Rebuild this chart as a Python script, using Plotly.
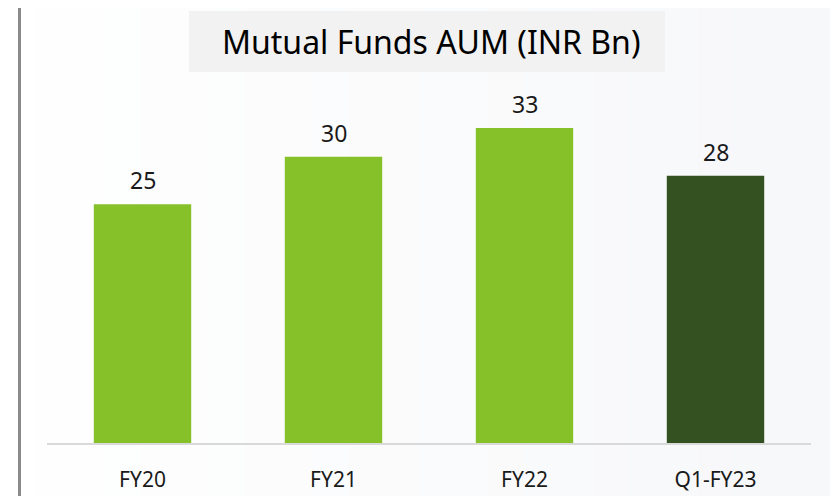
import plotly.graph_objects as go

categories = ["FY20", "FY21", "FY22", "Q1-FY23"]
aum_values = [25, 30, 33, 28]
bar_colors = ["#86C12A", "#86C12A", "#86C12A", "#345221"]
title_text = "Mutual Funds AUM (INR Bn)"

# page body has an 8px margin: figure fills the rest of the 838x496 viewport
OFF = 8
W, H = 838 - OFF, 496 - OFF
L, R, T, B = 47 - OFF, 838 - 811, 50 - OFF, 496 - 443
pw, ph = W - L - R, H - T - B

def px_x(sx):
    return (sx - OFF - L) / pw

def px_y(sy):
    return (H - B - (sy - OFF)) / ph

fig = go.Figure()
fig.add_trace(go.Bar(
    x=categories, y=aum_values,
    marker=dict(color=bar_colors, line=dict(width=0)),
    hoverinfo="skip",
))

shapes = []
# subtle background gradient
n = 24
for i in range(n):
    t = i / (n - 1)
    r = int(255 - 8 * t)
    g = int(255 - 7 * t)
    b = int(255 - 5 * t)
    shapes.append(dict(type="rect", xref="paper", yref="paper",
                       x0=px_x(838 * i / n), x1=px_x(838 * (i + 1) / n + 1),
                       y0=px_y(520), y1=px_y(-20),
                       fillcolor=f"rgb({r},{g},{b})", line=dict(width=0),
                       layer="below"))
# frame
shapes.append(dict(type="rect", xref="paper", yref="paper",
                   x0=px_x(19.5), x1=px_x(880), y0=px_y(540), y1=px_y(5.5),
                   line=dict(color="#8a8a8a", width=3), fillcolor="rgba(0,0,0,0)",
                   layer="below"))
# title box
shapes.append(dict(type="rect", xref="paper", yref="paper",
                   x0=px_x(189), x1=px_x(665), y0=px_y(72), y1=px_y(11),
                   fillcolor="#F2F2F2", line=dict(width=0), layer="below"))

annotations = [dict(text=title_text, xref="paper", yref="paper",
                    x=px_x(431), y=px_y(41), xanchor="center", yanchor="middle",
                    showarrow=False,
                    font=dict(family="Noto Sans", size=32, color="#000000"))]
for c, v in zip(categories, aum_values):
    annotations.append(dict(text=str(v), x=c, y=v, xref="x", yref="y",
                            xanchor="center", yanchor="bottom", yshift=6,
                            showarrow=False,
                            font=dict(family="Noto Sans", size=23, color="#1a1a1a")))

fig.update_layout(
    width=W, height=H,
    margin=dict(l=L, r=R, t=T, b=B, autoexpand=False),
    paper_bgcolor="white", plot_bgcolor="rgba(0,0,0,0)",
    bargap=0.49,
    showlegend=False,
    shapes=shapes,
    annotations=annotations,
    xaxis=dict(showline=True, linecolor="#D9D9D9", linewidth=2,
               showgrid=False, zeroline=False, ticks="", automargin=False,
               tickfont=dict(family="Noto Sans", size=21, color="#1a1a1a"),
               ticklabelstandoff=17),
    yaxis=dict(range=[0, 33 * ph / 315], visible=False, showgrid=False,
               zeroline=False, automargin=False),
)

fig.write_html("out.html")
